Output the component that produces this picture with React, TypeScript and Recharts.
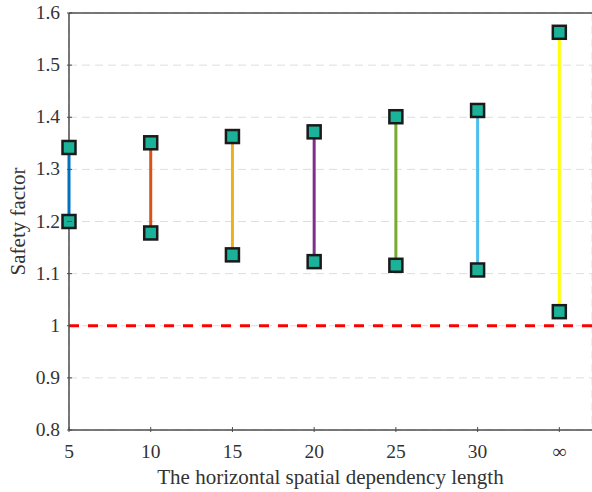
import { CartesianGrid, ComposedChart, Line, ReferenceLine, XAxis, YAxis } from "recharts";

const categories = ["5", "10", "15", "20", "25", "30", "∞"];
const xPositions = [5, 10, 15, 20, 25, 30, 35];
const lowValues = [1.2, 1.178, 1.136, 1.123, 1.116, 1.107, 1.027];
const highValues = [1.342, 1.351, 1.363, 1.372, 1.401, 1.413, 1.563];
const seriesColors = ["#0072BD", "#D95319", "#EDB120", "#7E2F8E", "#77AC30", "#4DBEEE", "#FFFF00"];
const yTicks = [0.8, 0.9, 1, 1.1, 1.2, 1.3, 1.4, 1.5, 1.6];

const font = "Liberation Serif, serif";
const axisColor = "#4d4d4d";
const textColor = "#333333";

const SquareDot = (props: any) => {
  const { cx, cy } = props;
  if (cx == null || cy == null) return null;
  return (
    <rect x={cx - 6.5} y={cy - 6.5} width={13} height={13} fill="#1AB399" stroke="#1a1a1a" strokeWidth={2.5} />
  );
};

const BottomTick = (props: any) => {
  const { x, y, payload } = props;
  const idx = xPositions.indexOf(payload.value);
  return (
    <g>
      <line x1={x} y1={y} x2={x} y2={y - 5} stroke={axisColor} />
      <text x={x} y={y + 26} textAnchor="middle" style={{ fontFamily: font, fontSize: 19.5 }} fill={textColor}>
        {idx >= 0 ? categories[idx] : ""}
      </text>
    </g>
  );
};

const TopTick = (props: any) => {
  const { x, y } = props;
  return <line x1={x} y1={y} x2={x} y2={y + 5} stroke={axisColor} />;
};

const LeftTick = (props: any) => {
  const { x, y, payload } = props;
  return (
    <g>
      <line x1={x} y1={y} x2={x + 5} y2={y} stroke={axisColor} />
      <text x={x - 7} y={y + 6} textAnchor="end" style={{ fontFamily: font, fontSize: 19.5 }} fill={textColor}>
        {String(payload.value)}
      </text>
    </g>
  );
};

export default function App() {
  return (
    <div style={{ position: "absolute", left: 0, top: 0, background: "#fff" }}>
      <ComposedChart width={592} height={492} margin={{ top: 0, right: 0, bottom: 0, left: 0 }}>
        <CartesianGrid stroke="#dedede" strokeDasharray="8 5" />
        <XAxis
          xAxisId="bottom"
          dataKey="x"
          type="number"
          domain={[5, 37]}
          ticks={xPositions}
          height={62}
          axisLine={false}
          tickLine={false}
          tickSize={0}
          tick={<BottomTick />}
          label={{ value: "The horizontal spatial dependency length", position: "insideBottom", offset: 8, style: { fontFamily: font, fontSize: 21, fill: textColor } }}
        />
        <XAxis
          xAxisId="top"
          orientation="top"
          dataKey="x"
          type="number"
          domain={[5, 37]}
          ticks={xPositions}
          height={13}
          axisLine={false}
          tickLine={false}
          tickSize={0}
          tick={<TopTick />}
        />
        <YAxis
          type="number"
          domain={[0.8, 1.6]}
          ticks={yTicks}
          width={69}
          axisLine={false}
          tickLine={false}
          tickSize={0}
          tick={<LeftTick />}
          label={{ value: "Safety factor", angle: -90, position: "insideLeft", offset: 18, style: { textAnchor: "middle", fontFamily: font, fontSize: 21, fill: textColor } }}
        />
        <ReferenceLine xAxisId="bottom" x={5} stroke={axisColor} strokeWidth={1.5} />
        <ReferenceLine xAxisId="bottom" y={0.8} stroke={axisColor} strokeWidth={1.5} />
        <ReferenceLine xAxisId="bottom" y={1.6} stroke={axisColor} strokeWidth={1.5} />
        <ReferenceLine xAxisId="bottom" y={1} stroke="#FF0000" strokeWidth={3} strokeDasharray="10 9" />
        {categories.map((c, i) => (
          <Line
            key={c}
            xAxisId="bottom"
            data={[
              { x: xPositions[i], y: lowValues[i] },
              { x: xPositions[i], y: highValues[i] },
            ]}
            dataKey="y"
            stroke={seriesColors[i]}
            strokeWidth={3}
            dot={<SquareDot />}
            activeDot={false}
            isAnimationActive={false}
          />
        ))}
      </ComposedChart>
    </div>
  );
}
